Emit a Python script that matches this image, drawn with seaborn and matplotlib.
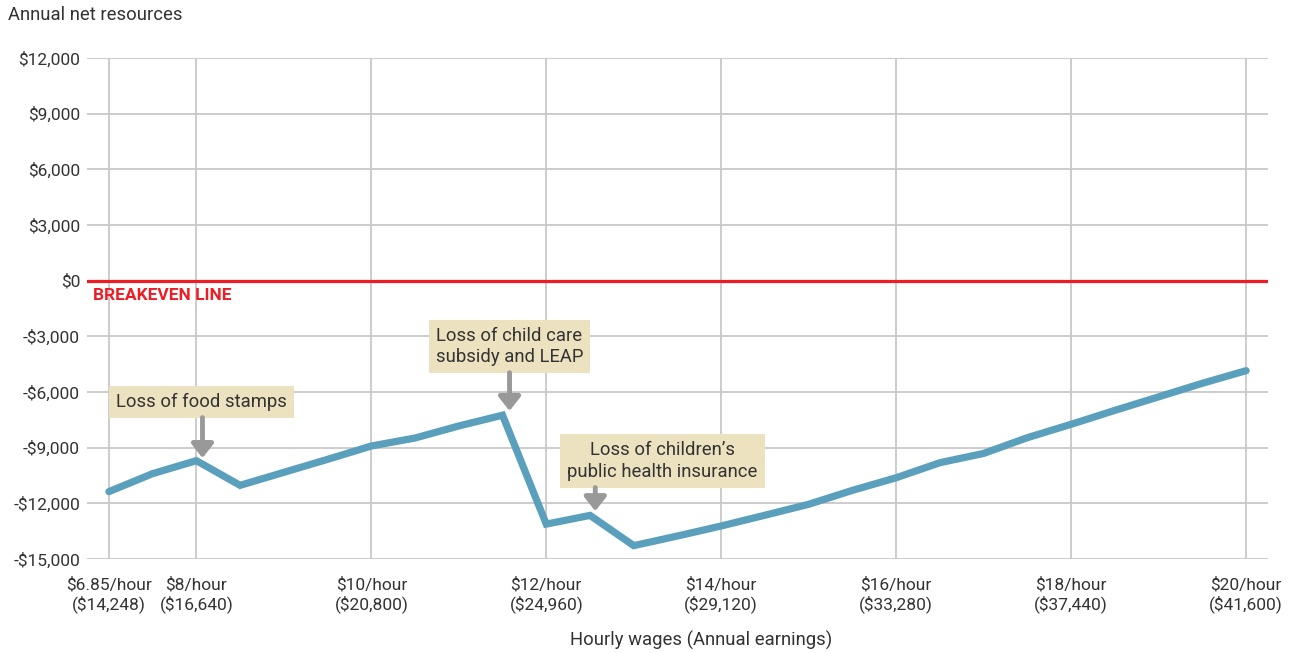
import matplotlib
matplotlib.use("Agg")
import matplotlib.pyplot as plt
import seaborn as sns
import pandas as pd

# plotted wage positions ($/hour); first point is the $6.85 minimum wage
wages = [7, 7.5, 8, 8.5, 9, 9.5, 10, 10.5, 11, 11.5, 12, 12.5, 13, 13.5,
         14, 14.5, 15, 15.5, 16, 16.5, 17, 17.5, 18, 18.5, 19, 19.5, 20]
net_resources = [-11370, -10400, -9700, -11030, -10330, -9630, -8910, -8480,
                 -7830, -7250, -13120, -12650, -14280, -13760, -13220, -12640,
                 -12050, -11300, -10620, -9810, -9310, -8460, -7740, -6990,
                 -6260, -5530, -4850]

xtick_pos = [7, 8, 10, 12, 14, 16, 18, 20]
xtick_labels = ["$6.85/hour\n($14,248)", "$8/hour\n($16,640)", "$10/hour\n($20,800)",
                "$12/hour\n($24,960)", "$14/hour\n($29,120)", "$16/hour\n($33,280)",
                "$18/hour\n($37,440)", "$20/hour\n($41,600)"]
ytick_pos = [12000, 9000, 6000, 3000, 0, -3000, -6000, -9000, -12000, -15000]
ytick_labels = ["$12,000", "$9,000", "$6,000", "$3,000", "$0", "-$3,000",
                "-$6,000", "-$9,000", "-$12,000", "-$15,000"]

# annotations: text, box centre, arrow start, arrow tip
notes = ["Loss of food stamps", "Loss of child care\nsubsidy and LEAP",
         "Loss of children\u2019s\npublic health insurance"]
note_xy = [(8.06, -6540), (11.58, -3560), (13.33, -9720)]
arrow_from = [(8.07, -7380), (11.58, -4960), (12.56, -11150)]
arrow_to = [(8.07, -9560), (11.58, -7020), (12.56, -12420)]

df = pd.DataFrame({"wage": wages, "net": net_resources})

sns.set_style("white")
plt.rcParams["font.family"] = ["Roboto", "DejaVu Sans"]
text_col = "#333333"
grid_col = "#c8c8c8"

fig = plt.figure(figsize=(12.9, 6.53), dpi=100)
ax = fig.add_axes([87 / 1290, 1 - 559 / 653, (1268 - 87) / 1290, (559 - 58) / 653])

ax.set_xlim(6.75, 20.25)
ax.set_ylim(-15000, 12000)
ax.set_xticks(xtick_pos)
ax.set_xticklabels(xtick_labels, fontsize=12.5, color=text_col, linespacing=1.2)
ax.set_yticks(ytick_pos)
ax.set_yticklabels(ytick_labels, fontsize=12.5, color=text_col)
ax.grid(True, color=grid_col, lw=1.3)
ax.set_axisbelow(True)
for s in ax.spines.values():
    s.set_visible(False)
ax.tick_params(axis="x", length=9, width=1.3, color=grid_col, pad=4)
ax.tick_params(axis="y", length=0, pad=5)

ax.axhline(0, color="#ee1c25", lw=2.3, zorder=2)
ax.text(6.82, -780, "BREAKEVEN LINE", color="#ee1c25", fontsize=12.5,
        fontweight="bold", va="center", ha="left")

sns.lineplot(data=df, x="wage", y="net", ax=ax, color="#5a9fbc", lw=5.2,
             zorder=3, solid_joinstyle="miter")

for t, xy in zip(notes, note_xy):
    ax.text(xy[0], xy[1], t, ha="center", va="center", fontsize=13.3,
            color=text_col, linespacing=1.25, zorder=4,
            bbox=dict(boxstyle="square,pad=0.38", fc="#ece2c0", ec="none"))
for a, b in zip(arrow_from, arrow_to):
    ax.annotate("", xy=b, xytext=a, zorder=4,
                arrowprops=dict(arrowstyle="-|>,head_width=0.55,head_length=0.7",
                                color="#999999", lw=3.5, shrinkA=0, shrinkB=0,
                                mutation_scale=12))

ax.set_xlabel("")
ax.set_ylabel("")
fig.text(8 / 1290, 1 - 15 / 653, "Annual net resources", fontsize=13.3,
         color=text_col, va="center", ha="left")
fig.text(701 / 1290, 1 - 640 / 653, "Hourly wages (Annual earnings)", fontsize=13.3,
         color=text_col, va="center", ha="center")

fig.savefig("out.png", dpi=100)
